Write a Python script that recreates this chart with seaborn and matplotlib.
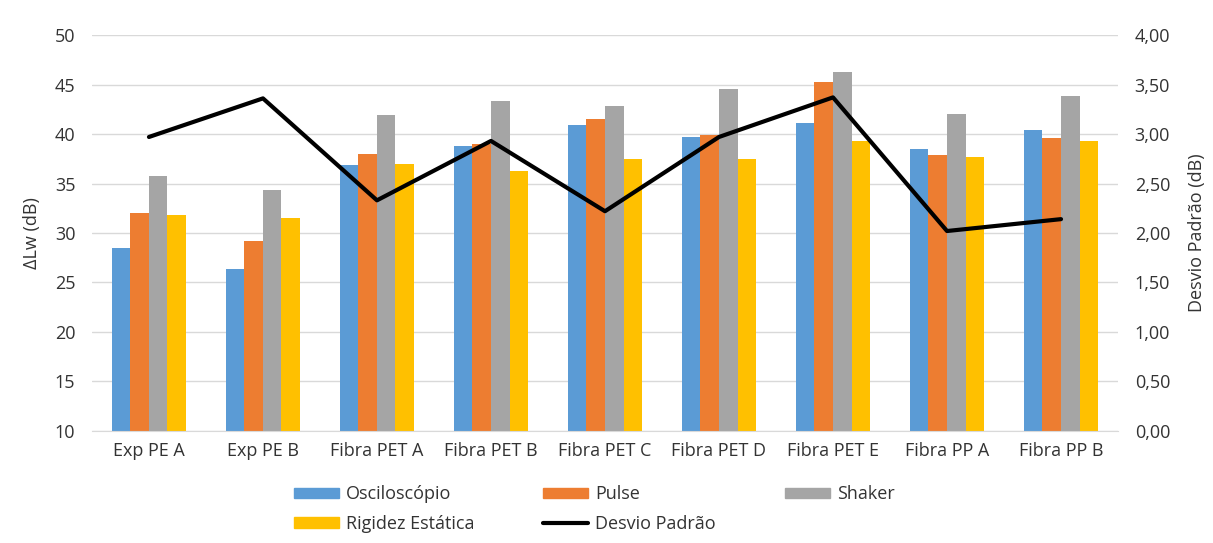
import matplotlib
matplotlib.use("Agg")
import matplotlib.pyplot as plt
import seaborn as sns
import pandas as pd
from matplotlib.ticker import FuncFormatter, MultipleLocator
from matplotlib.patches import Patch
from matplotlib.lines import Line2D

# dados
amostras = ["Exp PE A", "Exp PE B", "Fibra PET A", "Fibra PET B", "Fibra PET C",
            "Fibra PET D", "Fibra PET E", "Fibra PP A", "Fibra PP B"]
osciloscopio = [28.5, 26.4, 36.9, 38.8, 40.9, 39.7, 41.1, 38.5, 40.4]
pulse = [32.0, 29.2, 38.0, 39.0, 41.5, 39.9, 45.3, 37.9, 39.6]
shaker = [35.8, 34.3, 41.9, 43.3, 42.8, 44.5, 46.3, 42.0, 43.8]
rigidez = [31.8, 31.5, 37.0, 36.3, 37.5, 37.5, 39.3, 37.7, 39.3]
desvio = [2.97, 3.36, 2.33, 2.93, 2.22, 2.97, 3.37, 2.02, 2.14]

metodos = ["Osciloscópio", "Pulse", "Shaker", "Rigidez Estática"]
cores = ["#5b9bd5", "#ed7d31", "#a5a5a5", "#ffc000"]

df = pd.DataFrame({
    "amostra": amostras * 4,
    "dlw": osciloscopio + pulse + shaker + rigidez,
    "metodo": [m for m in metodos for _ in amostras],
})

sns.set_style("white")
plt.rcParams["font.family"] = ["Open Sans", "DejaVu Sans"]
txt = "#333333"
fs = 13

fig, ax = plt.subplots(figsize=(12.13, 5.43), dpi=100)
fig.subplots_adjust(left=0.0758, right=0.9217, top=0.9355, bottom=0.2063)

sns.barplot(data=df, x="amostra", y="dlw", hue="metodo", palette=cores,
            width=0.65, ax=ax, legend=False, saturation=1, linewidth=0, gap=0)
ax.set_ylim(10, 50)
ax.yaxis.set_major_locator(MultipleLocator(5))
ax.grid(axis="y", color="#d9d9d9", lw=1)
ax.set_axisbelow(True)
ax.set_xlabel("")
ax.set_ylabel("ΔLw (dB)", fontsize=fs, color=txt, labelpad=10)
ax.tick_params(axis="both", labelsize=fs, colors=txt, length=0)
ax.tick_params(axis="y", pad=12)
ax.tick_params(axis="x", pad=8)
for s in ["top", "right", "left"]:
    ax.spines[s].set_visible(False)
ax.spines["bottom"].set_color("#d9d9d9")

ax2 = ax.twinx()
sns.lineplot(x=list(range(len(amostras))), y=desvio, ax=ax2, color="black", lw=3)
ax2.set_ylim(0, 4)
ax2.yaxis.set_major_locator(MultipleLocator(0.5))
ax2.yaxis.set_major_formatter(FuncFormatter(lambda v, p: f"{v:.2f}".replace(".", ",")))
ax2.set_ylabel("Desvio Padrão (dB)", fontsize=fs, color=txt, labelpad=13)
ax2.tick_params(axis="y", labelsize=fs, colors=txt, length=0, pad=12)
for s in ["top", "right", "left", "bottom"]:
    ax2.spines[s].set_visible(False)
ax.set_xlim(-0.5, len(amostras) - 0.5)

handles = [Patch(color=cores[0]), Patch(color=cores[3]), Patch(color=cores[1]),
           Line2D([], [], color="black", lw=3), Patch(color=cores[2])]
labels = ["Osciloscópio", "Rigidez Estática", "Pulse", "Desvio Padrão", "Shaker"]
fig.legend(handles, labels, ncol=3, loc="upper left", bbox_to_anchor=(0.242, 0.106),
           frameon=False, fontsize=fs, labelcolor=txt, handlelength=2.5,
           handleheight=0.55, columnspacing=3.8, handletextpad=0.4, labelspacing=0.62,
           borderaxespad=0, borderpad=0)

fig.savefig("out.png", dpi=100)
